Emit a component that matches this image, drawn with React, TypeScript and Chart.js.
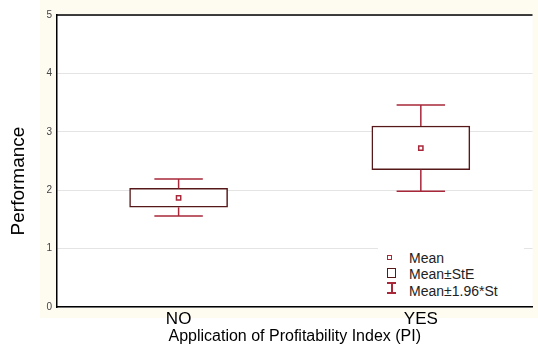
import React, { useEffect, useRef } from "react";
import { Chart, registerables } from "chart.js";

Chart.register(...registerables);

const categories = ["NO", "YES"];
const means = [1.87, 2.72];
const steLow = [1.71, 2.35];
const steHigh = [2.03, 3.1];
const ciLow = [1.56, 1.98];
const ciHigh = [2.19, 3.46];
const yTicks = [0, 1, 2, 3, 4, 5];
const legendLabels = ["Mean", "Mean±StE", "Mean±1.96*St"];
const yTitle = "Performance";
const xTitle = "Application of Profitability Index (PI)";

const FONT = "'Liberation Sans', Arial, sans-serif";
const RED = "#a8283a";
const DARK = "#561818";
const CAP_HALF = 0.1;

const framePlugin = {
  id: "frame",
  beforeDraw(chart: any) {
    const { ctx, chartArea } = chart;
    ctx.save();
    ctx.fillStyle = "#ffffff";
    ctx.fillRect(0, 0, chart.width, chart.height);
    ctx.fillStyle = "#fefbf1";
    ctx.fillRect(40, 0, chart.width - 40, 318);
    ctx.fillStyle = "#ffffff";
    ctx.fillRect(chartArea.left, chartArea.top, chartArea.right - chartArea.left, chartArea.bottom - chartArea.top);
    ctx.restore();
  },
  afterDraw(chart: any) {
    const { ctx, chartArea } = chart;
    ctx.save();
    ctx.strokeStyle = "#000";
    ctx.lineWidth = 1.5;
    ctx.beginPath();
    ctx.moveTo(chartArea.left, chartArea.top);
    ctx.lineTo(chartArea.right, chartArea.top);
    ctx.stroke();
    ctx.restore();
  },
};

export default function App() {
  const ref = useRef<HTMLCanvasElement | null>(null);

  useEffect(() => {
    if (!ref.current) return;
    const boxes = categories.map((_, i) => ({ x: i, y: [steLow[i], steHigh[i]] }));
    const whiskers: any[] = [];
    categories.forEach((_, i) => {
      whiskers.push({ x: i, y: steHigh[i] }, { x: i, y: ciHigh[i] }, { x: i, y: null });
      whiskers.push({ x: i - CAP_HALF, y: ciHigh[i] }, { x: i + CAP_HALF, y: ciHigh[i] }, { x: i, y: null });
      whiskers.push({ x: i, y: steLow[i] }, { x: i, y: ciLow[i] }, { x: i, y: null });
      whiskers.push({ x: i - CAP_HALF, y: ciLow[i] }, { x: i + CAP_HALF, y: ciLow[i] }, { x: i, y: null });
    });
    const meanPts = categories.map((_, i) => ({ x: i, y: means[i] }));

    const chart = new Chart(ref.current, {
      type: "bar",
      data: {
        datasets: [
          {
            type: "bar",
            label: legendLabels[1],
            data: boxes as any,
            backgroundColor: "#ffffff",
            borderColor: DARK,
            borderWidth: 1.5,
            borderSkipped: false,
            barThickness: 98,
            order: 2,
          } as any,
          {
            type: "line",
            label: legendLabels[2],
            data: whiskers,
            borderColor: RED,
            borderWidth: 1.5,
            pointRadius: 0,
            spanGaps: false,
            fill: false,
            order: 1,
          } as any,
          {
            type: "scatter",
            label: legendLabels[0],
            data: meanPts,
            pointStyle: "rect",
            pointRadius: 3,
            borderColor: RED,
            backgroundColor: "#ffffff",
            borderWidth: 1.5,
            order: 0,
          } as any,
        ],
      },
      options: {
        responsive: false,
        animation: false,
        layout: { padding: { top: 15, right: 0, left: 0, bottom: 0 } },
        plugins: { legend: { display: false }, tooltip: { enabled: false } },
        scales: {
          x: {
            type: "linear",
            offset: false,
            min: -0.502,
            max: 1.461,
            afterBuildTicks: (scale: any) => {
              scale.ticks = categories.map((_, i) => ({ value: i }));
            },
            afterFit: (scale: any) => {
              scale.height = 41;
            },
            grid: { display: false, drawTicks: false },
            border: { display: true, color: "#000", width: 1.5 },
            ticks: {
              padding: 2,
              color: "#000",
              font: { family: FONT, size: 17 },
              callback: (v: any) => categories[Math.round(Number(v))] ?? "",
            },
            title: {
              display: true,
              text: xTitle,
              color: "#000",
              font: { family: FONT, size: 16 },
              padding: { top: 0, bottom: 2 },
            },
          },
          y: {
            type: "linear",
            min: 0,
            max: 5,
            afterBuildTicks: (scale: any) => {
              scale.ticks = yTicks.map((v) => ({ value: v }));
            },
            afterFit: (scale: any) => {
              scale.width = 57;
            },
            grid: { color: "#e4e4e4", lineWidth: 1, drawTicks: false },
            border: { display: true, color: "#000", width: 1.5 },
            ticks: {
              padding: 5,
              color: "#444",
              font: { family: FONT, size: 10 },
            },
          },
        },
      },
      plugins: [framePlugin],
    });
    return () => chart.destroy();
  }, []);

  const textStyle: React.CSSProperties = {
    position: "absolute",
    left: 31,
    fontFamily: FONT,
    fontSize: 14,
    lineHeight: "16px",
    color: "#222",
    whiteSpace: "nowrap",
  };

  return (
    <div style={{ position: "fixed", left: 0, top: 0, width: 538, height: 348, background: "#fff" }}>
      <canvas ref={ref} width={538} height={348} style={{ display: "block" }} />
      <div
        style={{
          position: "absolute",
          left: 17.5 - 100,
          top: 181 - 12,
          width: 200,
          height: 24,
          lineHeight: "24px",
          textAlign: "center",
          fontFamily: FONT,
          fontSize: 19,
          color: "#000",
          transform: "rotate(-90deg)",
          whiteSpace: "nowrap",
        }}
      >
        {yTitle}
      </div>
      <div style={{ position: "absolute", left: 378, top: 247, width: 146, height: 54, background: "#fff" }}>
        <div style={{ position: "absolute", left: 9, top: 8, width: 3, height: 3, border: `1.5px solid ${RED}`, background: "#fff" }} />
        <div style={{ position: "absolute", left: 9, top: 21, width: 7, height: 8, border: `1.3px solid ${DARK}`, background: "#fff" }} />
        <div style={{ position: "absolute", left: 9, top: 35, width: 9, height: 1.5, background: RED }} />
        <div style={{ position: "absolute", left: 13, top: 35, width: 1.5, height: 10, background: RED }} />
        <div style={{ position: "absolute", left: 9, top: 45, width: 9, height: 1.5, background: RED }} />
        <div style={{ ...textStyle, top: 3 }}>{legendLabels[0]}</div>
        <div style={{ ...textStyle, top: 19 }}>{legendLabels[1]}</div>
        <div style={{ ...textStyle, top: 36 }}>{legendLabels[2]}</div>
      </div>
    </div>
  );
}
